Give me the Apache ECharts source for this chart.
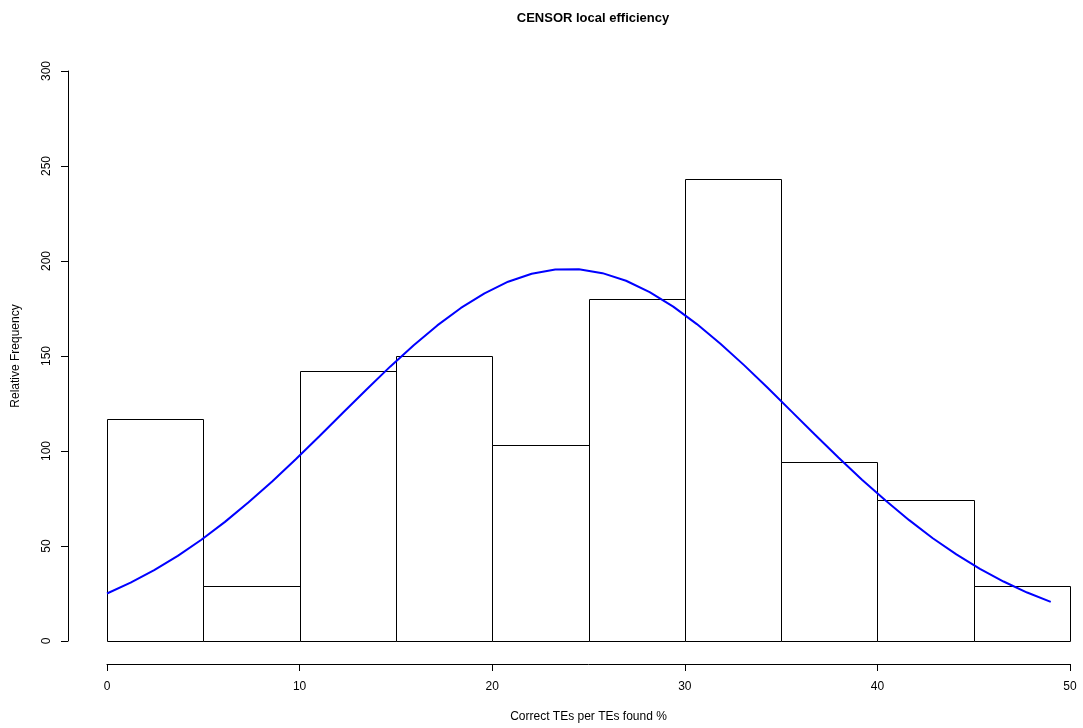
<!DOCTYPE html>
<html>
<head>
<meta charset="utf-8">
<title>CENSOR local efficiency</title>
<script src="https://cdn.jsdelivr.net/npm/echarts@6/dist/echarts.min.js"></script>
<style>
  html, body { margin: 0; padding: 0; background: #fff; }
  #chart { width: 1083px; height: 728px; }
</style>
</head>
<body>
<div id="chart"></div>
<script>
// Histogram bins (edges in %) and counts per bin
const binEdges = [0, 5, 10, 15, 20, 25, 30, 35, 40, 45, 50];
const binCounts = [117, 29, 142, 150, 103, 180, 243, 94, 74, 29];

// Fitted normal curve, sampled along the x range
const curveX = [0, 1.225, 2.45, 3.675, 4.9, 6.125, 7.35, 8.575, 9.8, 11.025,
  12.25, 13.475, 14.7, 15.925, 17.15, 18.375, 19.6, 20.825, 22.05, 23.275,
  24.5, 25.725, 26.95, 28.175, 29.4, 30.625, 31.85, 33.075, 34.3, 35.525,
  36.75, 37.975, 39.2, 40.425, 41.65, 42.875, 44.1, 45.325, 46.55, 47.775, 49];
const curveY = [25.0, 30.7, 37.3, 44.8, 53.3, 62.7, 73.0, 84.0, 95.7, 107.8,
  120.1, 132.4, 144.4, 155.7, 166.1, 175.3, 183.0, 189.1, 193.3, 195.5,
  195.6, 193.6, 189.6, 183.6, 176.0, 166.8, 156.5, 145.2, 133.3, 121.0,
  108.7, 96.6, 84.9, 73.9, 63.6, 54.1, 45.6, 38.0, 31.3, 25.5, 20.6];

const xTicks = [0, 10, 20, 30, 40, 50];
const yTicks = [0, 50, 100, 150, 200, 250, 300];

const FONT = 'Liberation Sans, Arial, Helvetica, sans-serif';

const histData = binCounts.map((c, i) => [binEdges[i], binEdges[i + 1], c]);
const lineData = curveX.map((x, i) => [x, curveY[i]]);

const chart = echarts.init(document.getElementById('chart'), null, { renderer: 'canvas' });

chart.setOption({
  backgroundColor: '#ffffff',
  animation: false,
  title: {
    text: 'CENSOR local efficiency',
    left: 588,
    textAlign: 'center',
    top: 7,
    textStyle: { fontFamily: FONT, fontSize: 13, fontWeight: 'bold', color: '#000' }
  },
  grid: { left: 107, right: 13, top: 71, bottom: 87 },
  xAxis: {
    type: 'value',
    min: xTicks[0],
    max: xTicks[xTicks.length - 1],
    interval: 10,
    offset: 23,
    name: 'Correct TEs per TEs found %',
    nameLocation: 'middle',
    nameGap: 47,
    nameTextStyle: { fontFamily: FONT, fontSize: 12, color: '#000' },
    axisLine: { show: true, onZero: false, lineStyle: { color: '#000', width: 1 } },
    axisTick: { show: true, length: 7, lineStyle: { color: '#000' } },
    axisLabel: { fontFamily: FONT, fontSize: 12, color: '#000', margin: 17 },
    splitLine: { show: false }
  },
  yAxis: {
    type: 'value',
    min: yTicks[0],
    max: yTicks[yTicks.length - 1],
    interval: 50,
    offset: 39,
    name: 'Relative Frequency',
    nameLocation: 'middle',
    nameGap: 46,
    nameTextStyle: { fontFamily: FONT, fontSize: 12, color: '#000' },
    axisLine: { show: true, onZero: false, lineStyle: { color: '#000', width: 1 } },
    axisTick: { show: true, length: 7, lineStyle: { color: '#000' } },
    axisLabel: { fontFamily: FONT, fontSize: 12, color: '#000', rotate: 90, margin: 15 },
    splitLine: { show: false }
  },
  series: [
    {
      type: 'custom',
      name: 'bins',
      data: histData,
      encode: { x: [0, 1], y: 2 },
      z: 2,
      renderItem: function (params, api) {
        const p0 = api.coord([api.value(0), api.value(2)]);
        const p1 = api.coord([api.value(1), 0]);
        const x0 = Math.round(p0[0]) + 0.5;
        const x1 = Math.round(p1[0]) + 0.5;
        const y0 = Math.round(p0[1]) + 0.5;
        const y1 = Math.round(p1[1]) + 0.5;
        return {
          type: 'rect',
          shape: { x: x0, y: y0, width: x1 - x0, height: y1 - y0 },
          style: { fill: '#ffffff', stroke: '#000000', lineWidth: 1 }
        };
      }
    },
    {
      type: 'line',
      name: 'normal fit',
      data: lineData,
      showSymbol: false,
      smooth: false,
      z: 3,
      lineStyle: { color: '#0000ff', width: 2 }
    }
  ]
});
</script>
</body>
</html>
